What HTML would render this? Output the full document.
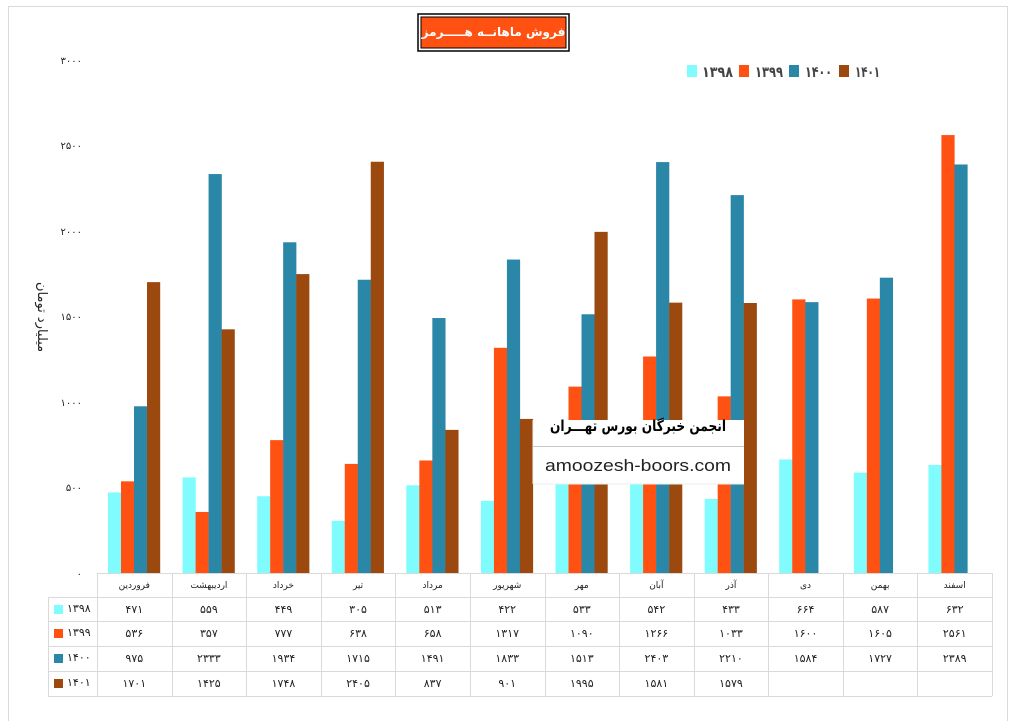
<!DOCTYPE html>
<html><head><meta charset="utf-8"><style>
html,body{margin:0;padding:0;background:#fff;}
body{position:relative;width:1015px;height:721px;overflow:hidden;}
svg{display:block;font-family:"DejaVu Sans","Liberation Sans",sans-serif;}
#title{position:absolute;left:421px;top:17px;width:145px;height:31px;text-align:center;color:#fff;font:bold 12px "DejaVu Sans","Liberation Sans",sans-serif;line-height:31px;direction:rtl;white-space:nowrap;overflow:hidden;}
</style></head><body>
<svg width="1015" height="721" viewBox="0 0 1015 721" xmlns="http://www.w3.org/2000/svg">
<rect x="8.5" y="6.5" width="999" height="720" fill="#fff" stroke="#d9d9d9"/>
<rect x="418" y="14" width="151" height="37" fill="#fff" stroke="#000" stroke-width="1.5"/>
<rect x="421" y="17" width="145" height="31" fill="#FF5212" stroke="#000" stroke-width="1"/>
<g font-size="15" font-weight="bold" fill="#444">
<rect x="687" y="65" width="10" height="12" fill="#80FCFF"/><text x="702" y="77" textLength="31" lengthAdjust="spacingAndGlyphs">۱۳۹۸</text>
<rect x="739" y="65" width="10" height="12" fill="#FF5212"/><text x="755" y="77" textLength="28" lengthAdjust="spacingAndGlyphs">۱۳۹۹</text>
<rect x="789" y="65" width="10" height="12" fill="#2A87A8"/><text x="805" y="77" textLength="27" lengthAdjust="spacingAndGlyphs">۱۴۰۰</text>
<rect x="839" y="65" width="10" height="12" fill="#9C4910"/><text x="855" y="77" textLength="25" lengthAdjust="spacingAndGlyphs">۱۴۰۱</text>
</g>
<g font-size="10" fill="#222" text-anchor="end">
<text x="82" y="64">۳۰۰۰</text>
<text x="82" y="149">۲۵۰۰</text>
<text x="82" y="235">۲۰۰۰</text>
<text x="82" y="320">۱۵۰۰</text>
<text x="82" y="406">۱۰۰۰</text>
<text x="82" y="491">۵۰۰</text>
<text x="82" y="577">۰</text>
</g>
<text transform="translate(38,317) rotate(90)" font-size="13" fill="#222" text-anchor="middle">میلیارد تومان</text>
<g id="bars"></g>
<rect x="533" y="420" width="211" height="64" fill="#fff"/>
<line x1="533" y1="420" x2="533" y2="484" stroke="#eee"/>
<line x1="533" y1="446.5" x2="744" y2="446.5" stroke="#c8c8c8"/>
<line x1="533" y1="484" x2="744" y2="484" stroke="#eee"/>
<text x="550" y="431" font-size="15" font-weight="bold" fill="#000" textLength="176" lengthAdjust="spacingAndGlyphs">انجمن خبرگان بورس تهـــران</text>
<text x="545" y="471" font-size="17" fill="#222" textLength="186" lengthAdjust="spacingAndGlyphs" font-family="Liberation Sans, sans-serif">amoozesh-boors.com</text>
<g id="table"></g>
</svg>
<div id="title">فروش ماهانــه هـــــرمز</div>
<script>
var ns="http://www.w3.org/2000/svg";
var data=[[471,559,449,305,513,422,533,542,433,664,587,632],
[536,357,777,638,658,1317,1090,1266,1033,1600,1605,2561],
[975,2333,1934,1715,1491,1833,1513,2403,2210,1584,1727,2389],
[1701,1425,1748,2405,837,901,1995,1581,1579,null,null,null]];
var cols=["#80FCFF","#FF5212","#2A87A8","#9C4910"];
var months=["فروردین","اردیبهشت","خرداد","تیر","مرداد","شهریور","مهر","آبان","آذر","دی","بهمن","اسفند"];
var years=["۱۳۹۸","۱۳۹۹","۱۴۰۰","۱۴۰۱"];
function fa(n){return String(n).replace(/\d/g,function(d){return "۰۱۲۳۴۵۶۷۸۹"[d];});}
function el(t,a,p,txt){var e=document.createElementNS(ns,t);for(var k in a)e.setAttribute(k,a[k]);if(txt!=null)e.textContent=txt;p.appendChild(e);return e;}
var g=document.getElementById("bars"),tb=document.getElementById("table");
var x0=97,cw=(992-97)/12,base=573,sc=513/3000;
for(var s=0;s<4;s++)for(var i=0;i<12;i++){var v=data[s][i];if(v==null)continue;
 var h=v*sc;el("rect",{x:x0+i*cw+11+s*13,y:base-h,width:13.2,height:h,fill:cols[s]},g);}
var rows=[573,597,621,646,671,696];
var st={stroke:"#d9d9d9","stroke-width":1};
for(var r=0;r<rows.length;r++){var xa=r==0?97:48;el("line",Object.assign({x1:xa,x2:992,y1:rows[r]+.5,y2:rows[r]+.5},st),tb);}
el("line",Object.assign({x1:48.5,x2:48.5,y1:597,y2:696},st),tb);
for(var i=0;i<=12;i++){var x=Math.round(x0+i*cw)+.5;el("line",Object.assign({x1:x,x2:x,y1:573,y2:696},st),tb);}
for(var i=0;i<12;i++){var cx=x0+i*cw+cw/2;
 el("text",{x:cx,y:588,"font-size":9,fill:"#222","text-anchor":"middle",direction:"rtl"},tb,months[i]);
 for(var s=0;s<4;s++){var v=data[s][i];if(v==null)continue;
  el("text",{x:cx,y:rows[s+1]+16,"font-size":11,fill:"#222","text-anchor":"middle"},tb,fa(v));}}
for(var s=0;s<4;s++){el("rect",{x:54,y:rows[s+1]+8,width:9,height:9,fill:cols[s]},tb);
 el("text",{x:67,y:rows[s+1]+15,"font-size":11,fill:"#222"},tb,years[s]);}
</script>
</body></html>
